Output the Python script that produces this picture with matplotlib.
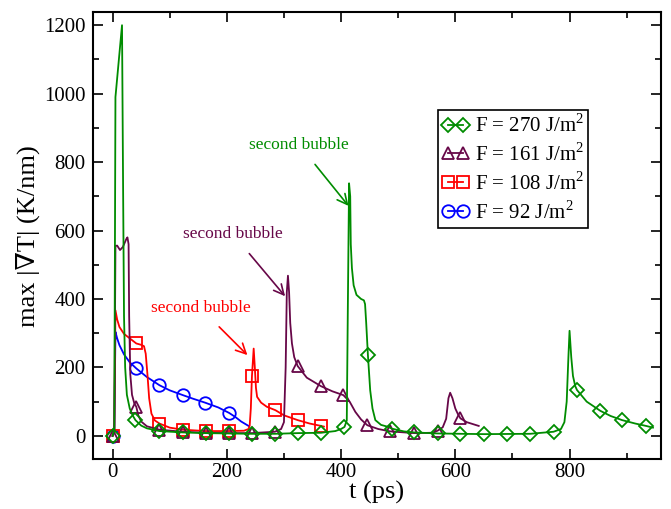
#!/usr/bin/env python3
"""
max |grad T| versus time for four fluences
"""

import matplotlib
matplotlib.use("Agg")
import matplotlib.pyplot as plt
from matplotlib.lines import Line2D
from matplotlib.ticker import MultipleLocator

# F = 270 J/m^2
t_270 = [0, 3, 5, 16.5, 18.5, 20, 22, 25, 30, 35, 40, 50, 60, 82, 123, 163, 203, 244, 284, 325,
         365, 390, 400, 406, 410, 412, 414, 416, 417, 419, 422, 427, 435, 440, 442, 444, 447, 451,
         455, 460, 470, 483, 489, 510, 528, 569, 609, 651, 690, 731, 772, 785, 791, 795, 798, 800,
         803, 806, 810, 813, 830, 854, 872, 892, 915, 934, 946]
y_270 = [0, 20, 990, 1200, 700, 350, 200, 120, 80, 60, 46, 30, 22, 14, 10, 8, 7, 6, 6, 8,
         9, 14, 20, 26, 45, 400, 738, 700, 560, 490, 440, 412, 400, 396, 385, 330, 236, 133,
         80, 46, 32, 26, 21, 13, 10, 7, 6, 5, 5.5, 6, 12, 20, 40, 100, 230, 307,
         230, 175, 145, 134, 100, 73, 58, 46, 36, 29, 24]
mt_270 = [0, 40, 82, 123, 163, 203, 244, 284, 325, 365, 406, 447, 489, 528, 569, 609, 651,
          690, 731, 772, 813, 854, 892, 934]
my_270 = [0, 46, 14, 10, 8, 7, 6, 6, 8, 9, 26, 236, 21, 10, 7, 6, 5, 5.5, 6, 12, 134, 73, 46, 29]

# F = 161 J/m^2
t_161 = [0, 3, 5, 8, 13, 18, 24, 26, 28, 29, 31, 34, 38, 41.5, 45, 50, 60, 82, 123, 163, 203,
         244, 284, 295, 300, 303, 305, 307, 309, 311, 314, 318, 324, 340, 365, 385, 404, 415,
         425, 435, 446, 465, 486, 528, 560, 569, 578, 584, 588, 591, 595, 600, 605, 609, 620, 641]
y_161 = [0, 10, 555, 556, 543, 552, 575, 580, 560, 350, 180, 120, 95, 85, 60, 42, 28, 18, 12, 9, 8,
         8, 12, 20, 40, 200, 420, 468, 420, 330, 270, 230, 204, 170, 145, 130, 119, 100,
         70, 48, 31, 20, 13, 8, 9, 15, 25, 50, 110, 126, 110, 80, 62, 51, 40, 29]
mt_161 = [0, 41.5, 82, 123, 163, 203, 244, 284, 324, 365, 404, 446, 486, 528, 569, 609]
my_161 = [0, 85, 18, 12, 9, 8, 8, 12, 204, 145, 119, 31, 13, 8, 15, 51]

# F = 108 J/m^2
t_108 = [0, 3, 5, 8, 12, 20, 30, 41.5, 50, 55, 58, 61, 64, 68, 74, 82, 100, 123, 163, 203, 230,
         238, 240, 242, 244, 247, 249, 251, 253, 260, 270, 285, 300, 324, 345, 365, 370]
y_108 = [0, 20, 367, 340, 318, 298, 285, 270, 266, 262, 240, 180, 110, 65, 45, 36, 24, 18, 14, 14, 15,
         20, 30, 80, 175, 255, 200, 140, 114, 97, 85, 75, 60, 46, 36, 29, 27]
mt_108 = [0, 41.5, 82, 123, 163, 203, 244, 285, 324, 365]
my_108 = [0, 270, 36, 18, 14, 14, 175, 75, 46, 29]

# F = 92 J/m^2
t_92 = [0, 3, 5, 8, 12, 20, 30, 41.5, 60, 82, 100, 123, 140, 162, 185, 204, 215, 225, 238]
y_92 = [0, 15, 304, 285, 265, 238, 215, 197, 172, 148, 133, 119, 109, 97, 83, 67, 55, 42, 29]
mt_92 = [0, 41.5, 82, 123, 162, 204]
my_92 = [0, 197, 148, 119, 97, 67]

labels = ["F = 270 J/m$^\\mathregular{2}$", "F = 161 J/m$^\\mathregular{2}$",
          "F = 108 J/m$^\\mathregular{2}$", "F = 92 J/m$^\\mathregular{2}$"]

GREEN = "#008c00"
MAROON = "#670748"
RED = "#ff0000"
BLUE = "#0000ff"

plt.rcParams["font.family"] = ["Liberation Serif", "DejaVu Serif"]
plt.rcParams["mathtext.fontset"] = "custom"
plt.rcParams["mathtext.rm"] = "Liberation Serif"


def main():
    fig = plt.figure(figsize=(6.71, 5.09), dpi=100)
    ax = fig.add_axes([0.138, 0.098, 0.847, 0.878])

    series = [
        (t_92, y_92, mt_92, my_92, BLUE, "o", 9, labels[3]),
        (t_108, y_108, mt_108, my_108, RED, "s", 8, labels[2]),
        (t_161, y_161, mt_161, my_161, MAROON, "^", 8.5, labels[1]),
        (t_270, y_270, mt_270, my_270, GREEN, "D", 7, labels[0]),
    ]
    handles = []
    for t, y, mt, my, c, m, ms, lab in series:
        ax.plot(t, y, color=c, lw=1.3)
        ax.plot(mt, my, ls="none", marker=m, ms=ms, mfc="none", mec=c, mew=1.3)
        handles.append(Line2D([], [], color=c, lw=1.3, marker=m, ms=ms, mfc="none",
                              mec=c, mew=1.3, label=lab))

    # arrows to the second bubble peaks
    ax.annotate("second bubble", xy=(413, 672), xytext=(327, 850), color=GREEN,
                fontsize=12.5, ha="center", va="center",
                arrowprops=dict(arrowstyle="->", color=GREEN, lw=1.2, mutation_scale=18,
                                shrinkA=8, shrinkB=0))
    ax.annotate("second bubble", xy=(302, 408), xytext=(211, 589), color=MAROON,
                fontsize=12.5, ha="center", va="center",
                arrowprops=dict(arrowstyle="->", color=MAROON, lw=1.2, mutation_scale=18,
                                shrinkA=8, shrinkB=0))
    ax.annotate("second bubble", xy=(236, 236), xytext=(154, 373), color=RED,
                fontsize=12.5, ha="center", va="center",
                arrowprops=dict(arrowstyle="->", color=RED, lw=1.2, mutation_scale=18,
                                shrinkA=8, shrinkB=0))

    ax.set_xlim(-35, 960)
    ax.set_ylim(-68, 1238)
    ax.xaxis.set_major_locator(MultipleLocator(200))
    ax.xaxis.set_minor_locator(MultipleLocator(100))
    ax.yaxis.set_major_locator(MultipleLocator(200))
    ax.yaxis.set_minor_locator(MultipleLocator(100))
    ax.tick_params(which="both", direction="in", top=True, right=True, width=1.2,
                   labelsize=15)
    ax.tick_params(axis="x", pad=3)
    ax.tick_params(axis="y", pad=5)
    ax.tick_params(which="major", length=7)
    ax.tick_params(which="minor", length=4)
    for s in ax.spines.values():
        s.set_linewidth(1.5)

    ax.set_xlabel("t (ps)", fontsize=19, labelpad=-1)
    ax.set_ylabel("max |\u2207T| (K/nm)", fontsize=19, labelpad=3)

    leg = ax.legend(handles=handles[::-1], loc="upper left", bbox_to_anchor=(0.607, 0.781),
                    fontsize=15, numpoints=2, handlelength=1.3, handletextpad=0.3,
                    borderpad=0.2, labelspacing=0.3, borderaxespad=0, fancybox=False,
                    framealpha=1)
    leg.get_frame().set_edgecolor("black")
    leg.get_frame().set_linewidth(1.2)

    fig.savefig("out.png", dpi=100)


if __name__ == '__main__':
    main()
